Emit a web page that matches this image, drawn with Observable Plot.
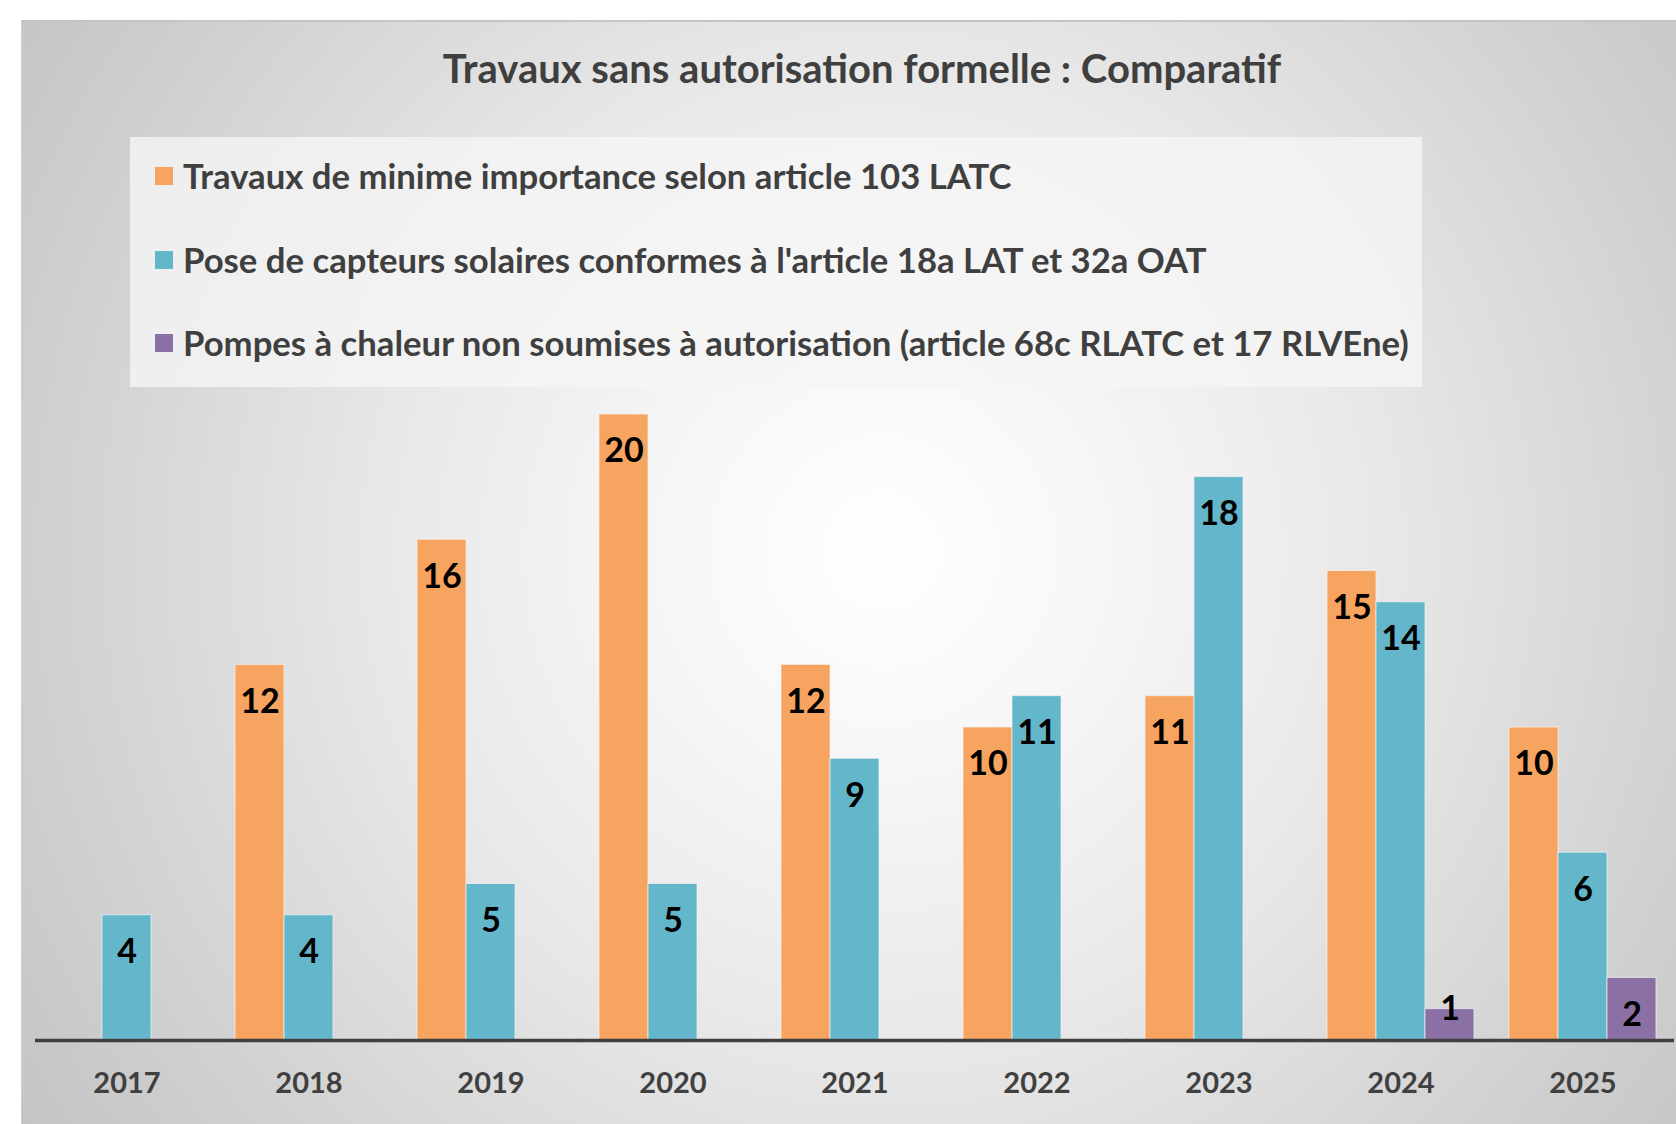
<!DOCTYPE html>
<html><head><meta charset="utf-8">
<script src="https://cdn.jsdelivr.net/npm/d3@7"></script>
<script src="https://cdn.jsdelivr.net/npm/@observablehq/plot@0.6"></script>
<style>
html,body{margin:0;padding:0;background:#fff;width:1676px;height:1124px;overflow:hidden;font-family:Lato,"Open Sans",sans-serif;}
#panel{position:absolute;left:21px;top:20px;width:1655px;height:1104px;border-top:2px solid #c4c4c4;border-left:1px solid #d0d0d0;
 background:radial-gradient(circle farthest-corner at 52% 48%, #ffffff 0%, #f6f6f6 22%, #e8e8e8 48%, #d1d1d1 80%, #c4c4c4 100%);}
#title{position:absolute;left:24px;width:1676px;top:44px;text-align:center;font-weight:700;font-size:40px;color:#3f3f3f;}
#legend{position:absolute;left:130px;top:137px;width:1292px;height:250px;background:rgba(245,245,245,0.8);}
.item{position:absolute;left:25px;font-weight:700;font-size:34.7px;color:#3f3f3f;white-space:nowrap;line-height:1;}
.sw{display:inline-block;width:18px;height:18px;margin-right:10px;vertical-align:4px;}
#chart{position:absolute;left:0;top:395px;}
</style></head>
<body>
<div id="panel"></div>
<div id="title"></div>
<div id="legend"></div>
<div id="chart"></div>
<script>
const years = ["2017","2018","2019","2020","2021","2022","2023","2024","2025"];
const seriesNames = [
  "Travaux de minime importance selon article 103 LATC",
  "Pose de capteurs solaires conformes à l'article 18a LAT et 32a OAT",
  "Pompes à chaleur non soumises à autorisation (article 68c RLATC et 17 RLVEne)"
];
const seriesColors = ["#F6A45F", "#64B6CB", "#8B70A6"];
const travaux = [null, 12, 16, 20, 12, 10, 11, 15, 10];
const capteurs = [4, 4, 5, 5, 9, 11, 18, 14, 6];
const pompes = [null, null, null, null, null, null, null, 1, 2];
const titleText = "Travaux sans autorisation formelle : Comparatif";

document.getElementById("title").textContent = titleText;
const leg = document.getElementById("legend");
const legendTops = [22, 106, 189];
seriesNames.forEach((n, i) => {
  const d = document.createElement("div");
  d.className = "item";
  d.style.top = legendTops[i] + "px";
  const s = document.createElement("span");
  s.className = "sw"; s.style.background = seriesColors[i];
  d.appendChild(s);
  d.appendChild(document.createTextNode(n));
  leg.appendChild(d);
});

const data = [];
[travaux, capteurs, pompes].forEach((arr, si) => {
  arr.forEach((v, yi) => { if (v != null) data.push({year: years[yi], series: seriesNames[si], value: v}); });
});

const chart = Plot.plot({
  width: 1676,
  height: 729,
  marginTop: 19,
  marginBottom: 84,
  marginLeft: 35,
  marginRight: 1,
  style: {background: "transparent", fontFamily: "Lato, 'Open Sans', sans-serif"},
  fx: {domain: years, paddingInner: 0.19, paddingOuter: 0.095, label: null},
  x: {domain: seriesNames, padding: 0, axis: null},
  y: {domain: [0, 20], axis: null},
  color: {domain: seriesNames, range: seriesColors},
  marks: [
    Plot.barY(data, {fx: "year", x: "series", y: "value", fill: "series", stroke: "#f4f4f4", strokeOpacity: 0.7, strokeWidth: 1, inset: 0}),
    Plot.text(data.filter(d => d.value >= 2), {fx: "year", x: "series", y: "value", text: d => String(d.value), dy: 37, fontSize: 34, fontWeight: 700, fill: "#000"}),
    Plot.text(data.filter(d => d.value < 2), {fx: "year", x: "series", y: "value", text: d => String(d.value), dy: 0, fontSize: 34, fontWeight: 700, fill: "#000"}),
    Plot.axisFx({tickSize: 0, tickPadding: 32, fontSize: 29, fontWeight: 700, fill: "#404040", label: null, anchor: "bottom"}),
    Plot.ruleY([0], {stroke: "#404040", strokeWidth: 3.5, insetLeft: -18, insetRight: -18})
  ]
});
document.getElementById("chart").appendChild(chart);
</script>
</body></html>
